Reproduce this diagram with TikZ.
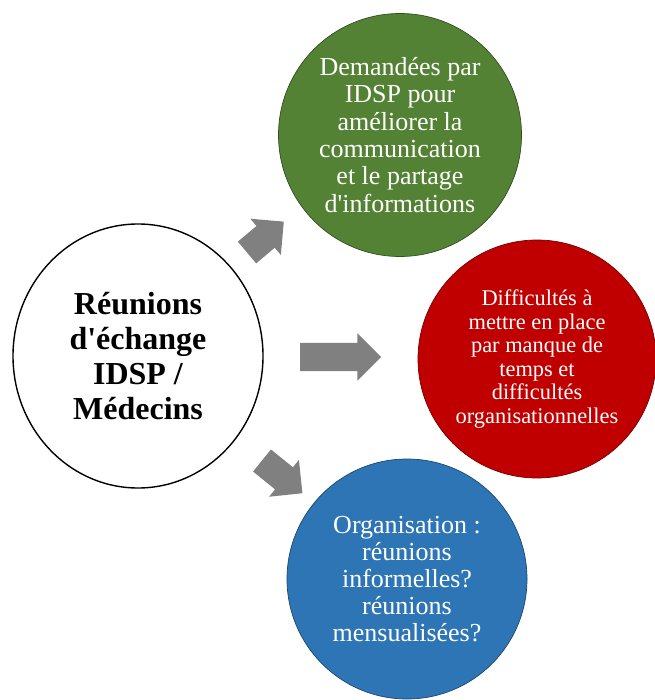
\documentclass[tikz,border=0pt]{standalone}
\usepackage{fontspec}
\setmainfont{Liberation Serif}[Ligatures=TeXOff, BoldFont={Liberation Serif Bold}]
\usetikzlibrary{shapes,arrows}
\definecolor{vert}{RGB}{84,130,53}
\definecolor{rouge}{RGB}{192,0,0}
\definecolor{bleu}{RGB}{46,117,182}
\definecolor{gris}{RGB}{128,128,128}

\begin{document}
\begin{tikzpicture}[x=1pt, y=-1pt, outer sep=0pt,
  bulle/.style={circle, inner sep=0pt, minimum size=240pt, align=center,
    text=white, fill=#1, draw=#1!60!black, line width=0.7pt},
  fleche/.style={single arrow, fill=gris, draw=none, inner sep=0pt,
    text height=14pt, text depth=14pt, single arrow head extend=9.5pt,
    single arrow tip angle=90, anchor=tail}]
\useasboundingbox (0, 0) rectangle (654, 700);

\node at (138, 356) (CENTRE) [ellipse, draw=black, line width=1.4pt,
    minimum width=250pt, minimum height=264pt, inner sep=0pt, align=center,
    font=\bfseries\fontsize{32}{35}\selectfont]
    {Réunions\\d'échange\\IDSP /\\Médecins};

\node at (400, 135) (DEMANDE) [bulle=vert, minimum size=243pt,
    font=\fontsize{26}{27.3}\selectfont]
    {Demandées par\\IDSP pour\\améliorer la\\communication\\et le partage\\d'informations};
\node at (537, 359) (DIFFIC) [bulle=rouge, minimum size=238pt,
    font=\fontsize{22.4}{23.5}\selectfont]
    {Difficultés à\\mettre en place\\par manque de\\temps et\\difficultés\\organisationnelles};
\node at (407, 579) (ORGA) [bulle=bleu,
    font=\fontsize{26}{27}\selectfont]
    {Organisation :\\réunions\\informelles?\\réunions\\mensualisées?};

% fleches du centre vers les bulles
\node at (247, 252.5) (F_HAUT) [fleche, rotate=40, minimum height=48pt] {};
\node at (300, 357) (F_MILIEU) [fleche, minimum height=81pt] {};
\node at (262, 460.5) (F_BAS) [fleche, rotate=-39, minimum height=52pt] {};
\end{tikzpicture}
\end{document}
